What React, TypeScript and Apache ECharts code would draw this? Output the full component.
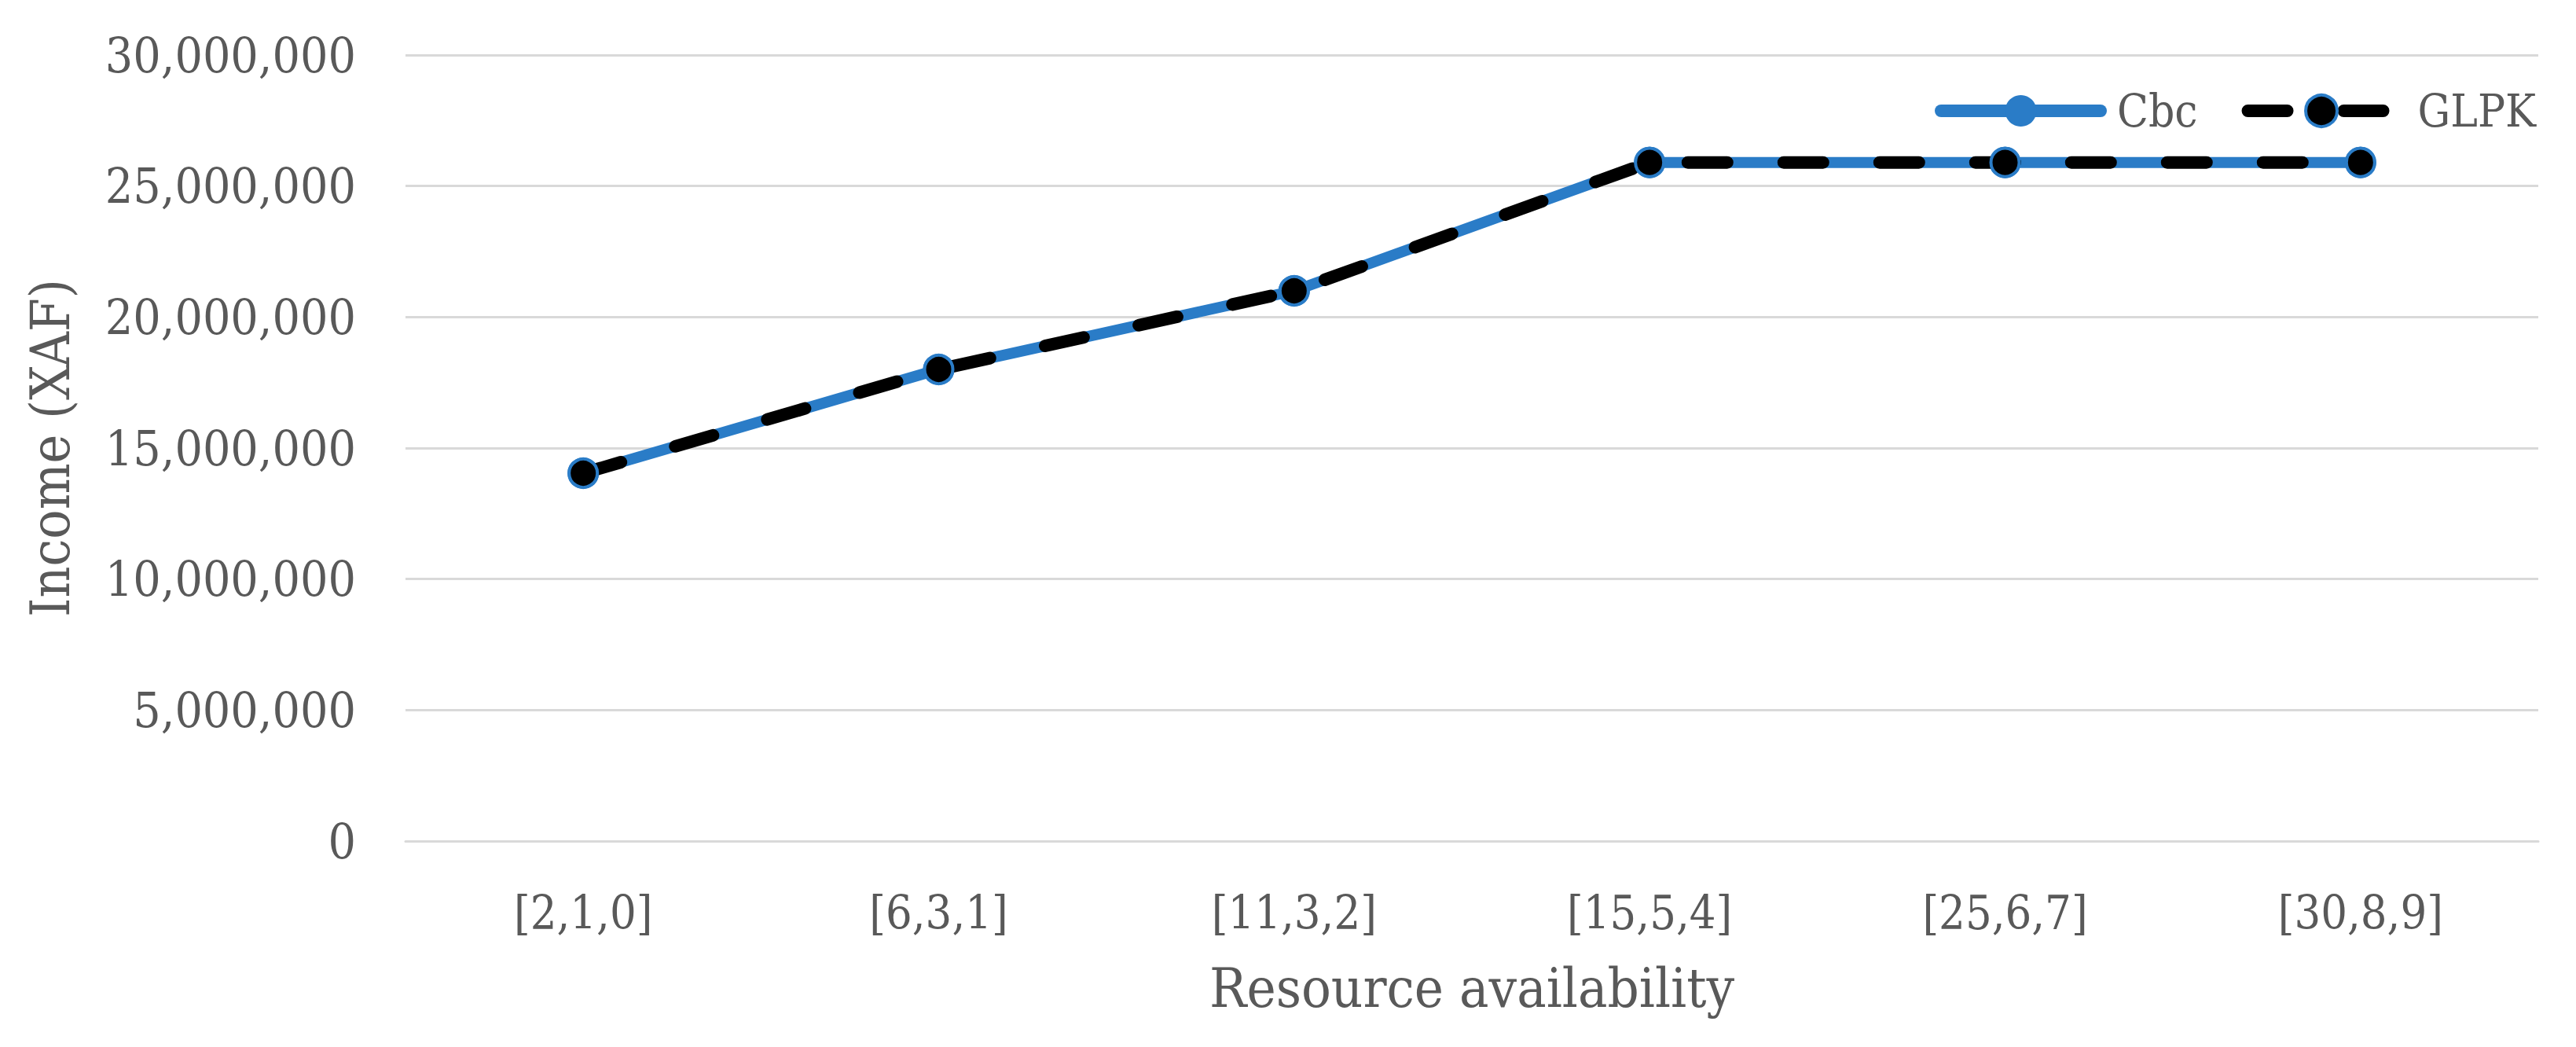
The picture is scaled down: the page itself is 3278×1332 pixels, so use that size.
import React, { useEffect, useRef } from "react";
import * as echarts from "echarts";

const categories = ["[2,1,0]", "[6,3,1]", "[11,3,2]", "[15,5,4]", "[25,6,7]", "[30,8,9]"];
const cbcIncome = [14040000, 18000000, 21000000, 25900000, 25900000, 25900000];
const glpkIncome = [14040000, 18000000, 21000000, 25900000, 25900000, 25900000];
const yTicks = { min: 0, max: 30000000, interval: 5000000 };

const BLUE = "#2A7CC7";
const TEXT = "#595959";
const FONT = "'DejaVu Serif Condensed', 'DejaVu Serif', serif";

export default function App() {
  const ref = useRef<HTMLDivElement>(null);
  useEffect(() => {
    if (!ref.current) return;
    const chart = echarts.init(ref.current, null, { renderer: "svg" });
    chart.setOption({
      animation: false,
      backgroundColor: "#ffffff",
      grid: { left: 516, right: 48, top: 70, bottom: 262, containLabel: false },
      legend: {
        right: 46,
        top: 107,
        itemWidth: 203,
        itemHeight: 50,
        itemGap: 48,
        textStyle: { fontFamily: FONT, fontSize: 58, color: TEXT, padding: [0, 0, 0, 16] },
        data: [
          { name: "Cbc", lineStyle: { width: 16, color: BLUE, type: "solid", cap: "round" }, itemStyle: { color: BLUE, borderWidth: 0 } },
          { name: "GLPK", lineStyle: { width: 16, color: "#000", type: [50, 72], cap: "round", dashOffset: -8 }, itemStyle: { color: "#000", borderColor: BLUE, borderWidth: 4 } },
        ],
      },
      xAxis: {
        type: "category",
        data: categories,
        boundaryGap: true,
        axisTick: { show: false },
        axisLine: { show: true, lineStyle: { color: "#D9D9D9", width: 3 } },
        axisLabel: { fontFamily: FONT, fontSize: 59, color: TEXT, margin: 62 },
        name: "Resource availability",
        nameLocation: "middle",
        nameGap: 152,
        nameTextStyle: { fontFamily: FONT, fontSize: 70, color: TEXT },
      },
      yAxis: {
        type: "value",
        min: yTicks.min,
        max: yTicks.max,
        interval: yTicks.interval,
        axisLine: { show: false },
        axisTick: { show: false },
        splitLine: { lineStyle: { color: "#D9D9D9", width: 3 } },
        axisLabel: {
          fontFamily: FONT,
          fontSize: 62,
          color: TEXT,
          margin: 63,
          formatter: (v: number) => v.toLocaleString("en-US"),
        },
        name: "Income (XAF)",
        nameLocation: "middle",
        nameGap: 418,
        nameTextStyle: { fontFamily: FONT, fontSize: 69, color: TEXT },
      },
      series: [
        {
          name: "Cbc",
          type: "line",
          data: cbcIncome,
          symbol: "circle",
          symbolSize: 40,
          lineStyle: { color: BLUE, width: 14, cap: "round" },
          itemStyle: { color: BLUE },
          z: 2,
        },
        {
          name: "GLPK",
          type: "line",
          data: glpkIncome,
          symbol: "circle",
          symbolSize: 36,
          lineStyle: { color: "#000", width: 16, type: [50, 72], cap: "round" },
          itemStyle: { color: "#000", borderColor: BLUE, borderWidth: 4 },
          z: 3,
        },
      ],
    });
    return () => chart.dispose();
  }, []);
  return <div ref={ref} style={{ position: "fixed", left: 0, top: 0, width: 3278, height: 1332 }} />;
}
